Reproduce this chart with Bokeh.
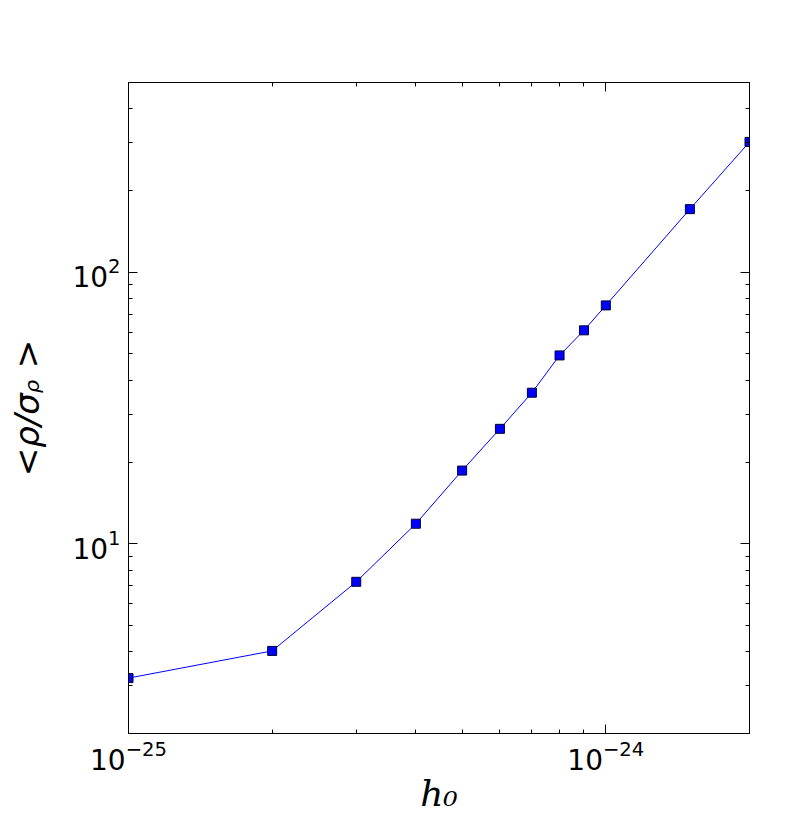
from bokeh.plotting import figure
from bokeh.models import Range1d, FixedTicker, LogAxis, CustomJSTickFormatter
from bokeh.embed import file_html
from bokeh.resources import INLINE

# data
h0 = [1e-25, 2e-25, 3e-25, 4e-25, 5e-25, 6e-25, 7e-25, 8e-25, 9e-25, 1e-24, 1.5e-24, 2e-24]
snr = [3.2, 4.03, 7.24, 11.85, 18.6, 26.5, 36.0, 49.4, 61.1, 75.5, 170.8, 302.0]

x_major = [1e-25, 1e-24]
x_minor = [k * 1e-25 for k in range(2, 10)] + [2e-24]
y_major = [1.0, 10.0, 100.0]
y_minor = [k * 1.0 for k in range(2, 10)] + [k * 10.0 for k in range(2, 10)] + [k * 100.0 for k in range(2, 6)]

p = figure(width=778, height=807, x_axis_type="log", y_axis_type="log",
           x_range=Range1d(1e-25, 2e-24), y_range=Range1d(2, 500),
           output_backend="svg", toolbar_location=None,
           min_border_left=128, min_border_right=29, min_border_top=82, min_border_bottom=74)
p.frame_width = 621
p.frame_height = 651

p.xgrid.visible = False
p.ygrid.visible = False
p.outline_line_color = "black"
p.outline_line_width = 1
p.background_fill_color = "white"
p.border_fill_color = "white"

bottom = p.xaxis[0]
left = p.yaxis[0]

def style(ax, ticker):
    ax.ticker = ticker
    ax.major_tick_in = 9
    ax.major_tick_out = 0
    ax.minor_tick_in = 4
    ax.minor_tick_out = 0
    ax.axis_line_color = "black"
    ax.major_tick_line_color = "black"
    ax.minor_tick_line_color = "black"
    ax.major_label_text_font = "DejaVu Sans"
    ax.major_label_text_color = "black"
    ax.major_label_text_font_size = "28px"

style(bottom, FixedTicker(ticks=x_major, minor_ticks=x_minor))
style(left, FixedTicker(ticks=y_major, minor_ticks=y_minor))
bottom.major_label_standoff = 6
left.major_label_standoff = 8

top = LogAxis(formatter=CustomJSTickFormatter(code="return '';"))
right = LogAxis(formatter=CustomJSTickFormatter(code="return '';"))
style(top, FixedTicker(ticks=x_major, minor_ticks=x_minor))
style(right, FixedTicker(ticks=y_major, minor_ticks=y_minor))
top.major_label_standoff = 0
right.major_label_standoff = 0
p.add_layout(top, "above")
p.add_layout(right, "right")

bottom.axis_label = "h\u2080"
bottom.axis_label_text_font = "DejaVu Serif"
bottom.axis_label_text_font_style = "italic"
bottom.axis_label_text_font_size = "36px"
bottom.axis_label_text_color = "black"
bottom.axis_label_standoff = 0

left.axis_label = "<\u03c1/\u03c3\u1d68 >"
left.axis_label_text_font = "DejaVu Sans"
left.axis_label_text_font_style = "italic"
left.axis_label_text_font_size = "34px"
left.axis_label_text_color = "black"
left.axis_label_standoff = 22

p.line(h0, snr, line_color="#0000ff", line_width=1)
p.scatter(h0, snr, marker="square", size=9, fill_color="#0000ff", line_color="#000033", line_width=1)

open("out.html", "w").write(file_html(p, INLINE))
